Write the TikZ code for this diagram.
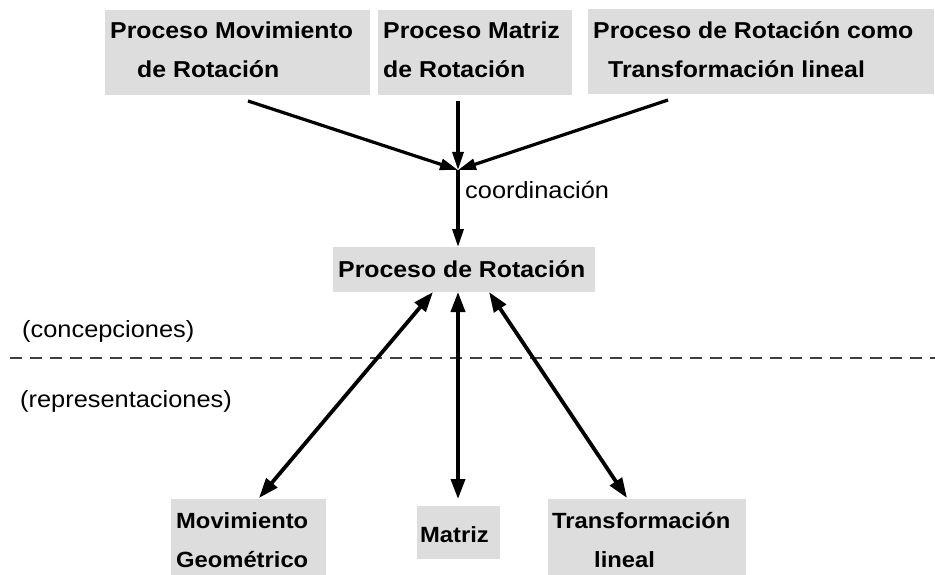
\documentclass[tikz,border=0pt]{standalone}
\usepackage{fontspec}
\setmainfont{Liberation Sans}[FakeStretch=1.08]
\usetikzlibrary{arrows.meta}
\definecolor{boxgray}{HTML}{DDDDDD}
\tikzset{
  box/.style={fill=boxgray, draw=none, inner sep=0pt},
  btxt/.style={anchor=base west, inner sep=0pt, font=\fontsize{23}{27}\selectfont\bfseries},
  bstxt/.style={anchor=base west, inner sep=0pt, font=\fontsize{22}{26}\selectfont\bfseries},
  ltxt/.style={anchor=base west, inner sep=0pt, font=\fontsize{23.5}{28}\selectfont},
  tip/.tip={Triangle[length=18pt,width=11pt]},
  btip/.tip={Triangle[length=20pt,width=14pt]},
  arr/.style={line width=3.2pt, -tip},
  darr/.style={line width=3.8pt, btip-btip},
}
\begin{document}
\begin{tikzpicture}[x=1pt,y=-1pt]
\useasboundingbox (0,0) rectangle (935,575);
% top boxes
\node[box, minimum width=265pt, minimum height=85pt] (b1) at (237.5,52.5) {};
\node[box, minimum width=194pt, minimum height=85pt] (b2) at (475,52.5) {};
\node[box, minimum width=346pt, minimum height=85pt] (b3) at (761,52) {};
\node[btxt] (t1a) at (110,39) {Proceso Movimiento};
\node[btxt] (t1b) at (137,78) {de Rotación};
\node[btxt] (t2a) at (383,39) {Proceso Matriz};
\node[btxt] (t2b) at (383,78) {de Rotación};
\node[btxt] (t3a) at (593,39) {Proceso de Rotación como};
\node[btxt] (t3b) at (608,78) {Transformación lineal};
% center box
\node[box, minimum width=262pt, minimum height=45pt] (c) at (464,269.5) {};
\node[btxt] (ct) at (338,277) {Proceso de Rotación};
% bottom boxes
\node[box, minimum width=155pt, minimum height=80pt] (m1) at (248.5,539) {};
\node[box, minimum width=83pt, minimum height=53pt] (m2) at (458.5,532.5) {};
\node[box, minimum width=198pt, minimum height=80pt] (m3) at (647,539) {};
\node[bstxt] (mt1a) at (176,528) {Movimiento};
\node[bstxt] (mt1b) at (176,567) {Geométrico};
\node[bstxt] (mt2) at (420,542) {Matriz};
\node[bstxt] (mt3a) at (552,528) {Transformación};
\node[bstxt] (mt3b) at (594,567) {lineal};
% labels
\node[ltxt] (lc) at (465,198) {coordinación};
\node[ltxt] (lk) at (22,337) {(concepciones)};
\node[ltxt] (lr) at (20,407) {(representaciones)};
% dashed separator
\coordinate (dl) at (10,358);
\coordinate (dr) at (935,358);
\draw[line width=1.1pt, dash pattern=on 12pt off 8pt, black!75] (dl) -- (dr);
% connector points
\coordinate (s1) at (248,101);
\coordinate (s2) at (458,101);
\coordinate (s3) at (668,100);
\coordinate (j) at (458,170);
\coordinate (ce) at (458,247);
\coordinate (cl) at (433,292);
\coordinate (cm) at (458,292);
\coordinate (cr) at (489,292);
\coordinate (e1) at (259,498);
\coordinate (e2) at (458,499);
\coordinate (e3) at (627,498);
\draw[arr] (s1) -- (j);
\draw[arr] (s2) -- (j);
\draw[arr] (s3) -- (j);
\draw[arr] (j) -- (ce);
\draw[darr] (e1) -- (cl);
\draw[darr] (e2) -- (cm);
\draw[darr] (e3) -- (cr);
\end{tikzpicture}
\end{document}
